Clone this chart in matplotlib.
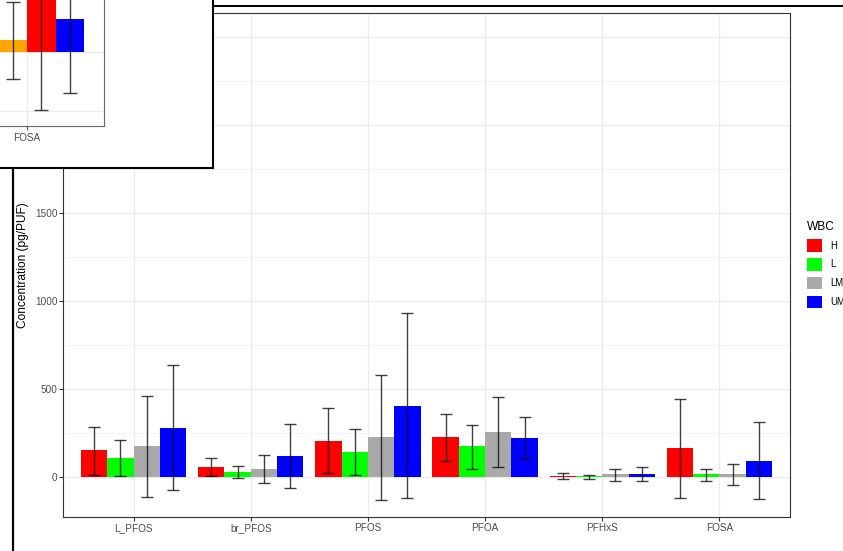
import numpy as np
import matplotlib.pyplot as plt
from matplotlib.lines import Line2D
from matplotlib.patches import Patch

plt.rcParams['font.family'] = ['Liberation Sans', 'DejaVu Sans']

# Основні дані
compounds = ['L_PFOS', 'br_PFOS', 'PFOS', 'PFOA', 'PFHxS', 'FOSA']
groups = ['H', 'L', 'LM', 'UM']
colors = ['#FF0000', '#00FF00', '#A9A9A9', '#0000FF']

mean_H = [153, 59, 208, 227, 9, 167]
mean_L = [110, 30, 144, 176, 5, 17]
mean_LM = [176, 49, 227, 260, 17, 17]
mean_UM = [278, 123, 407, 223, 17, 95]

low_H = [15, 8, 24, 95, -7, -115]
low_L = [9, -3, 15, 49, -7, -19]
low_LM = [-112, -32, -129, 61, -19, -41]
low_UM = [-74, -59, -115, 104, -23, -123]

high_H = [288, 108, 396, 358, 24, 447]
high_L = [212, 64, 273, 297, 15, 47]
high_LM = [462, 129, 580, 456, 47, 76]
high_UM = [636, 305, 932, 343, 59, 314]

# Дані для вставки (обрізаний фрагмент іншого графіка)
inset_labels = ['FOSA']
inset_colors = ['#FFA500', '#FF0000', '#0000FF']
inset_offsets = [-0.125, 0.125, 0.375]
inset_mean = [51, 400, 139]
inset_low = [-114, -246, -174]
inset_high = [212, 900, 700]

means = [mean_H, mean_L, mean_LM, mean_UM]
lows = [low_H, low_L, low_LM, low_UM]
highs = [high_H, high_L, high_LM, high_UM]

W, H = 843, 551
fig = plt.figure(figsize=(W / 100, H / 100), dpi=100)

def px_axes(x0, y0, x1, y1, **kw):
    return fig.add_axes([x0 / W, 1 - y1 / H, (x1 - x0) / W, (y1 - y0) / H], **kw)

tick_col = '#4D4D4D'
grid_col = '#EBEBEB'

# Основна панель
ax = px_axes(63.3, 12.7, 789.7, 517.3)
x = np.arange(1, len(compounds) + 1)
bw = 0.9 / len(groups)
for i, g in enumerate(groups):
    xs = x + (i - 1.5) * bw
    m = np.array(means[i])
    ax.bar(xs, m, width=bw, color=colors[i], zorder=2)
    yerr = [m - np.array(lows[i]), np.array(highs[i]) - m]
    ax.errorbar(xs, m, yerr=yerr, fmt='none', ecolor='black', alpha=0.75,
                elinewidth=1.0, capsize=4.4, capthick=1.0, zorder=3)

ax.set_xticks(x)
ax.set_xticklabels(compounds)
ax.set_yticks(np.arange(0, 2501, 500))
ax.set_yticks(np.arange(250, 2501, 500), minor=True)
ax.set_xlim(0.4, 6.6)
ax.set_ylim(-227, 2640)
ax.grid(True, which='major', color=grid_col, lw=1.0, zorder=0)
ax.grid(True, which='minor', axis='y', color='#F2F2F2', lw=0.6, zorder=0)
ax.set_axisbelow(True)
ax.tick_params(axis='both', which='major', length=2.7, width=0.8, color='#333333',
               labelsize=7.2, labelcolor=tick_col, pad=1.5)
ax.tick_params(axis='y', which='minor', length=0)
for s in ax.spines.values():
    s.set_color('#333333')
    s.set_linewidth(0.8)
ax.set_ylabel('Concentration (pg/PUF)', fontsize=8.6, labelpad=4)

# Легенда
handles = [Patch(facecolor=c, edgecolor='none') for c in colors]
leg = fig.legend(handles, groups, loc='upper left', bbox_to_anchor=(807 / W, 1 - 221 / H),
                 frameon=False, fontsize=6.9, title='WBC', title_fontsize=8.6,
                 handlelength=1.55, handleheight=1.62, labelspacing=0.66,
                 handletextpad=0.9, borderpad=0, borderaxespad=0, alignment='left')

# Рамки вікон
fig.add_artist(Line2D([13 / W, 13 / W], [0, 1 - 168 / H], transform=fig.transFigure,
                      color='black', lw=1.6))
fig.add_artist(Line2D([213 / W, 1], [1 - 6.3 / H, 1 - 6.3 / H], transform=fig.transFigure,
                      color='black', lw=1.4))

# Вставка
box = px_axes(-5, -5, 213, 167.5)
box.set_facecolor('white')
box.set_xticks([])
box.set_yticks([])
box.spines['left'].set_visible(False)
box.spines['top'].set_visible(False)
box.spines['right'].set_linewidth(1.5)
box.spines['bottom'].set_linewidth(1.5)
box.set_zorder(5)

ins = px_axes(-1, -1, 104.3, 126)
ins.set_zorder(6)
for off, c, m, lo, hi in zip(inset_offsets, inset_colors, inset_mean, inset_low, inset_high):
    ins.bar(off, m, width=0.25, color=c, zorder=2)
    ins.errorbar(off, m, yerr=[[m - lo], [hi - m]], fmt='none', ecolor='black', alpha=0.75,
                 elinewidth=1.0, capsize=4.7, capthick=1.0, zorder=3)
ins.set_xticks([0])
ins.set_xticklabels(inset_labels)
ins.set_yticks([0, -250])
ins.set_xlim(-0.246, 0.678)
ins.set_ylim(-313.6, 224)
ins.grid(True, color=grid_col, lw=1.0, zorder=0)
ins.set_axisbelow(True)
ins.tick_params(axis='x', length=2.7, width=0.8, color='#555555', labelsize=7.2,
                labelcolor=tick_col, pad=2)
ins.tick_params(axis='y', length=0, labelleft=False)
ins.spines['left'].set_visible(False)
ins.spines['top'].set_visible(False)
ins.spines['right'].set_color('#666666')
ins.spines['bottom'].set_color('#666666')

fig.savefig('out.png', dpi=100)
